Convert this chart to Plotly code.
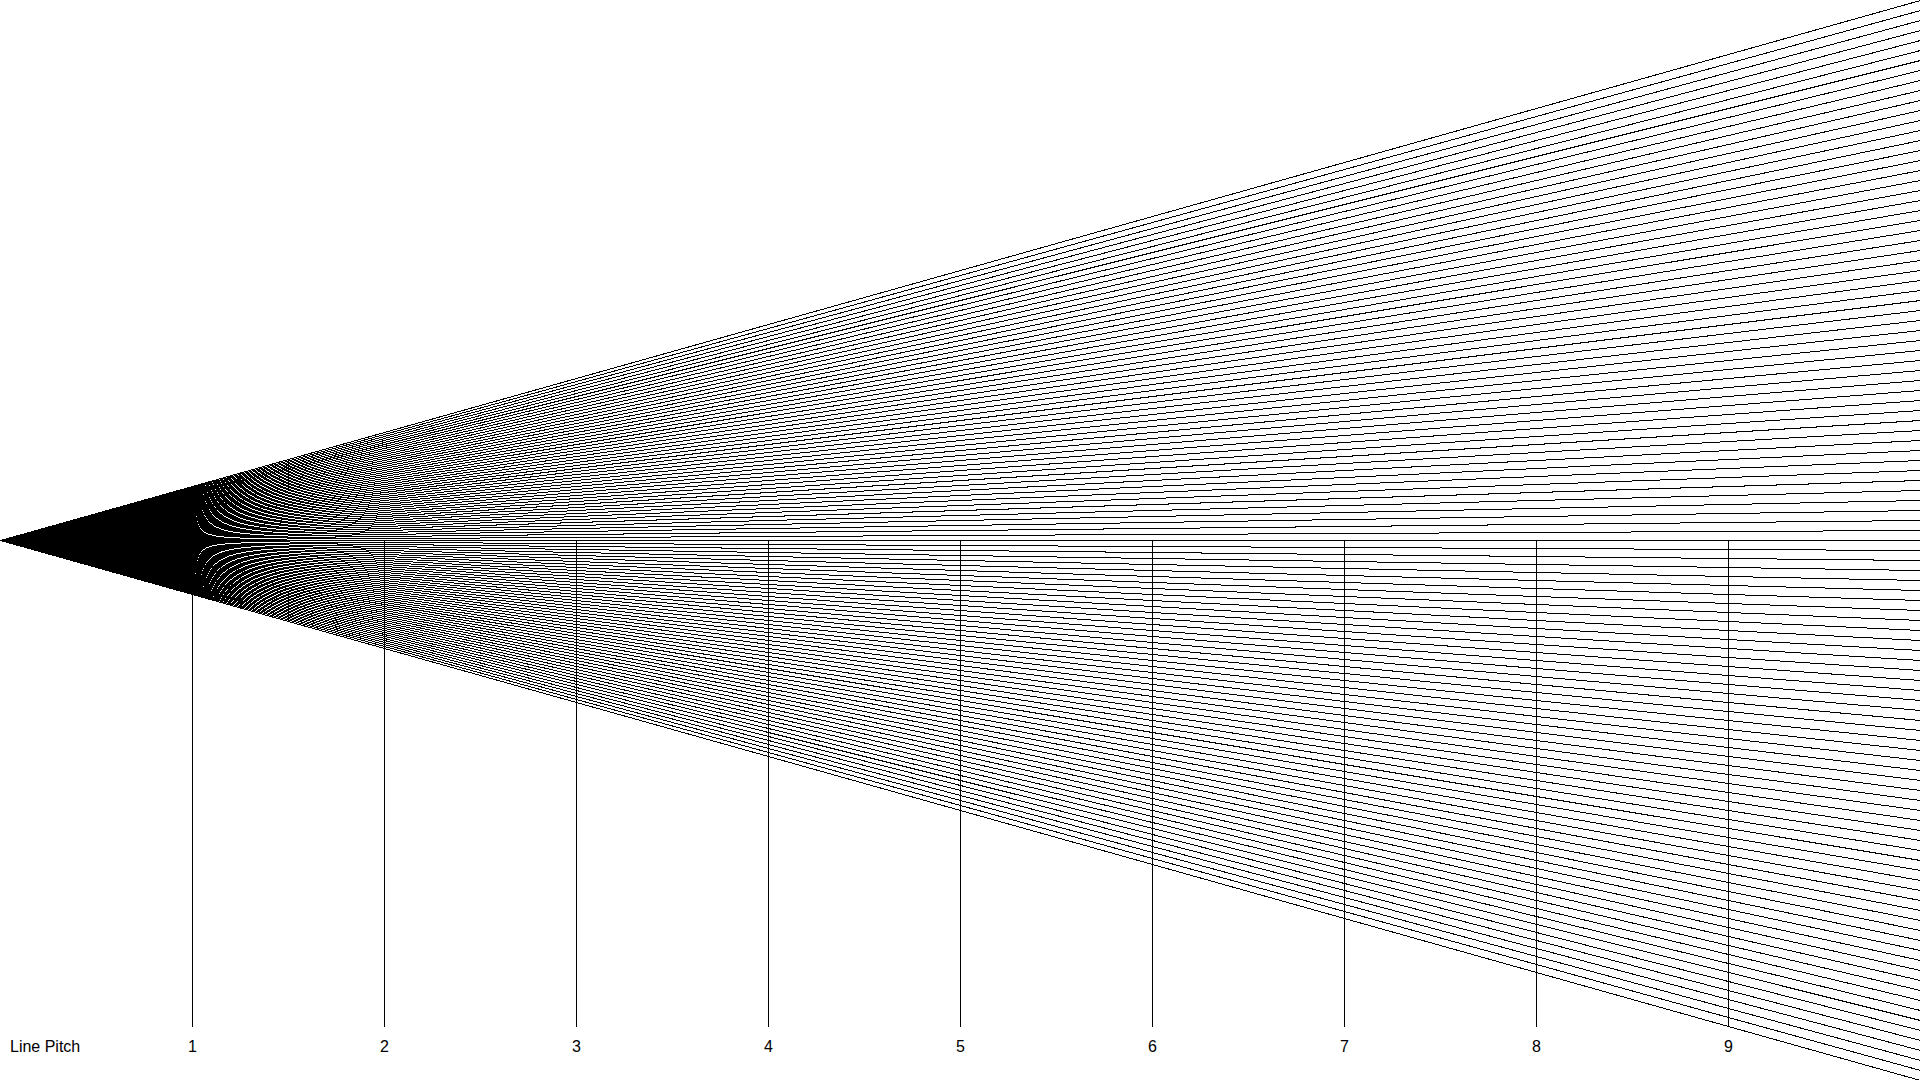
import plotly.graph_objects as go

# ---- data ----
# fan line indices: line k is offset by k * pitch pixels from the centre line
line_ids = [-54, -53, -52, -51, -50, -49, -48, -47, -46, -45, -44, -43, -42, -41, -40,
            -39, -38, -37, -36, -35, -34, -33, -32, -31, -30, -29, -28, -27, -26, -25,
            -24, -23, -22, -21, -20, -19, -18, -17, -16, -15, -14, -13, -12, -11, -10,
            -9, -8, -7, -6, -5, -4, -3, -2, -1, 0, 1, 2, 3, 4, 5, 6, 7, 8, 9, 10,
            11, 12, 13, 14, 15, 16, 17, 18, 19, 20, 21, 22, 23, 24, 25, 26, 27, 28, 29,
            30, 31, 32, 33, 34, 35, 36, 37, 38, 39, 40, 41, 42, 43, 44, 45, 46, 47, 48,
            49, 50, 51, 52, 53, 54]
pitch_start = 0      # line pitch (px) at the apex
pitch_end = 10       # line pitch (px) at the right edge
marker_pitches = [1, 2, 3, 4, 5, 6, 7, 8, 9]
marker_labels = ["1", "2", "3", "4", "5", "6", "7", "8", "9"]
axis_title = "Line Pitch"

W, H = 1920, 1080
PX_PER_UNIT = W / pitch_end          # 192 px per pitch unit
CENTER = 540.5                      # pixel row of the centre line
MARKER_BOTTOM = 1026.5              # pixel row where the marker lines end
LABEL_ROW = 1046                    # pixel row of label centres

# fan lines: y (in px, up positive) = k * pitch
fx, fy = [], []
for k in line_ids:
    fx += [pitch_start, pitch_end, None]
    fy += [-k * pitch_start, -k * pitch_end, None]

# vertical marker lines
vx, vy = [], []
for p in marker_pitches:
    vx += [p, p, None]
    vy += [0, -(MARKER_BOTTOM - CENTER), None]

fig = go.Figure()
fig.add_trace(go.Scatter(x=fx, y=fy, mode="lines",
                         line=dict(color="black", width=1),
                         hoverinfo="skip", showlegend=False))
fig.add_trace(go.Scatter(x=vx, y=vy, mode="lines",
                         line=dict(color="black", width=1),
                         hoverinfo="skip", showlegend=False))

font = dict(family="Liberation Sans, Arial, Helvetica, sans-serif", size=16, color="black")
for p, lab in zip(marker_pitches, marker_labels):
    fig.add_annotation(x=p, y=-(LABEL_ROW - CENTER), xref="x", yref="y",
                       text=lab, showarrow=False, xanchor="center", yanchor="middle",
                       font=font)
fig.add_annotation(x=8 / W, y=-(LABEL_ROW - CENTER), xref="paper", yref="y",
                   text=axis_title, showarrow=False, xanchor="left", yanchor="middle",
                   font=font)

x0 = -0.5 / PX_PER_UNIT
fig.update_layout(
    width=W, height=H,
    margin=dict(l=0, r=0, t=0, b=0, pad=0),
    paper_bgcolor="white", plot_bgcolor="white",
    xaxis=dict(range=[x0, x0 + pitch_end], visible=False, fixedrange=True),
    yaxis=dict(range=[-(H - CENTER), CENTER], visible=False, fixedrange=True),
    showlegend=False,
)

post = """
var st = document.createElement('style');
st.innerHTML = 'body{margin:0;} .js-plotly-plot path.js-line{shape-rendering:crispEdges;}';
document.head.appendChild(st);
"""
fig.write_html("out.html", config={"displayModeBar": False, "staticPlot": True},
               post_script=post)
